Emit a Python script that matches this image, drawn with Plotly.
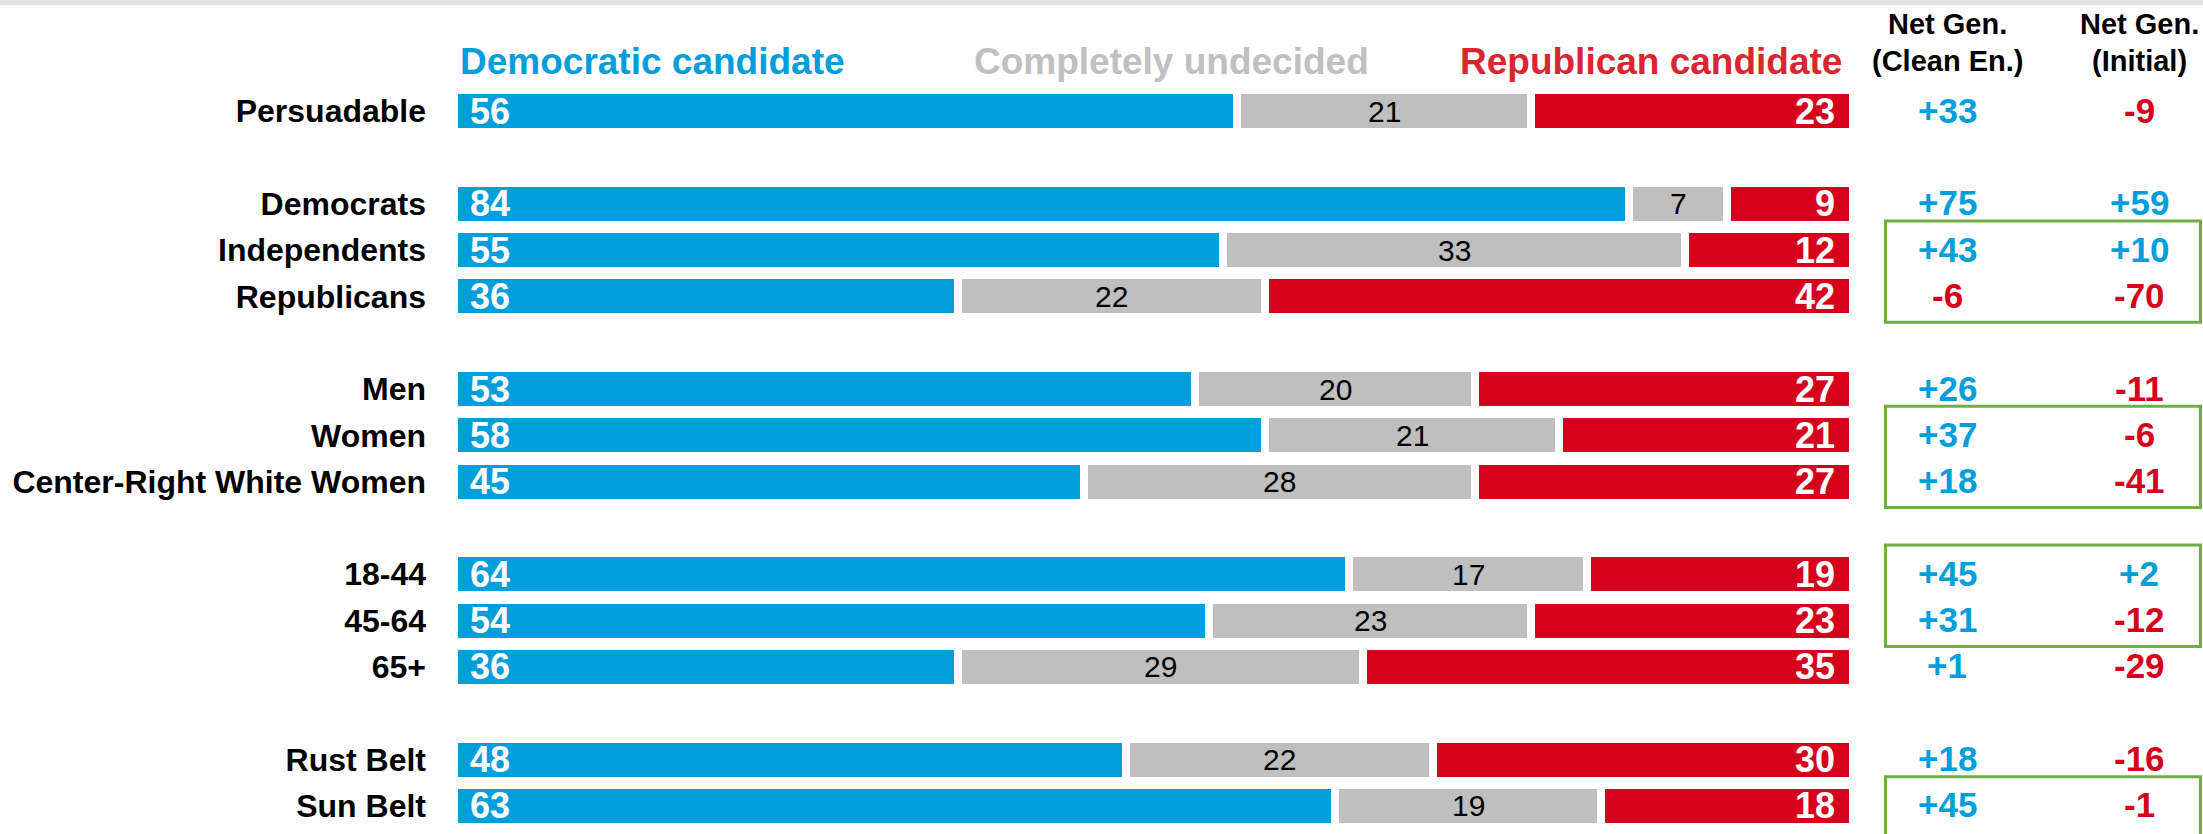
import plotly.graph_objects as go

# ---------------- data ----------------
categories = ["Persuadable", "Democrats", "Independents", "Republicans",
              "Men", "Women", "Center-Right White Women",
              "18-44", "45-64", "65+", "Rust Belt", "Sun Belt"]
groups = [0, 1, 1, 1, 2, 2, 2, 3, 3, 3, 4, 4]
dem = [56, 84, 55, 36, 53, 58, 45, 64, 54, 36, 48, 63]
undecided = [21, 7, 33, 22, 20, 21, 28, 17, 23, 29, 22, 19]
rep = [23, 9, 12, 42, 27, 21, 27, 19, 23, 35, 30, 18]
net_clean = [33, 75, 43, -6, 26, 37, 18, 45, 31, 1, 18, 45]
net_initial = [-9, 59, 10, -70, -11, -6, -41, 2, -12, -29, -16, -1]
series_names = ["Democratic candidate", "Completely undecided", "Republican candidate"]
net_headers = ["Net Gen.<br>(Clean En.)", "Net Gen.<br>(Initial)"]
highlight = [("Independents", "Republicans"), ("Women", "Center-Right White Women"),
             ("18-44", "45-64"), ("Sun Belt", "Sun Belt")]

# ---------------- style ----------------
FONT = "Liberation Sans, Arial, sans-serif"
BLUE = "#009EDB"
GRAY = "#BFBFBF"
RED = "#D6001C"
RED_HDR = "#D92630"
GRAY_HDR = "#C0C0C0"
GREEN = "#70AD47"
W, H = 2203, 834
ML, MR, MT, MB = 454, 350, 88, 5
PW, PH = W - ML - MR, H - MT - MB

rows = [i + g for i, g in enumerate(groups)]
row_of = dict(zip(categories, rows))
NROWS = max(rows) + 1

def px_x(px):
    return (px - ML) / PW

def px_y(py):
    return (H - MB - py) / PH

def row_paper(r):
    return 1 - (r + 0.5) / NROWS

fig = go.Figure()
for vals, col in zip([dem, undecided, rep], [BLUE, GRAY, RED]):
    fig.add_trace(go.Bar(
        y=rows, x=vals, orientation="h", marker=dict(color=col, line=dict(color="white", width=8)),
        width=0.907, hoverinfo="skip", showlegend=False))

ann = []
for r, d, u, rp in zip(rows, dem, undecided, rep):
    ann.append(dict(x=0, y=r, xref="x", yref="y", text=str(d), showarrow=False, xanchor="left",
                    yanchor="middle", xshift=14,
                    font=dict(family=FONT, size=36, color="white", weight="bold")))
    ann.append(dict(x=d + u / 2, y=r, xref="x", yref="y", text=str(u), showarrow=False,
                    xanchor="center", yanchor="middle",
                    font=dict(family=FONT, size=30, color="black")))
    ann.append(dict(x=d + u + rp, y=r, xref="x", yref="y", text=str(rp), showarrow=False,
                    xanchor="right", yanchor="middle", xshift=-16,
                    font=dict(family=FONT, size=36, color="white", weight="bold")))

col_x = [px_x(1947), px_x(2139)]
for cx, vals in zip(col_x, [net_clean, net_initial]):
    for r, v in zip(rows, vals):
        ann.append(dict(x=cx, y=row_paper(r), xref="paper", yref="paper", text=f"{v:+d}",
                        showarrow=False, xanchor="center", yanchor="middle", yshift=1,
                        font=dict(family=FONT, size=35, color=BLUE if v > 0 else RED, weight="bold")))

for cx, t in zip(col_x, net_headers):
    l1, l2 = t.split("<br>")
    ann.append(dict(x=cx, y=px_y(24), xref="paper", yref="paper", text=l1, showarrow=False,
                    xanchor="center", yanchor="middle",
                    font=dict(family=FONT, size=29, color="black", weight="bold")))
    ann.append(dict(x=cx, y=px_y(61), xref="paper", yref="paper", text=l2, showarrow=False,
                    xanchor="center", yanchor="middle",
                    font=dict(family=FONT, size=29, color="black", weight="bold")))

hdr_y = px_y(62)
ann.append(dict(x=0, y=hdr_y, xref="x", yref="paper", text=series_names[0], showarrow=False,
                xanchor="left", yanchor="middle", xshift=4,
                font=dict(family=FONT, size=37, color=BLUE, weight="bold")))
ann.append(dict(x=50, y=hdr_y, xref="x", yref="paper", text=series_names[1], showarrow=False,
                xanchor="center", yanchor="middle", xshift=18,
                font=dict(family=FONT, size=37, color=GRAY_HDR, weight="bold")))
ann.append(dict(x=100, y=hdr_y, xref="x", yref="paper", text=series_names[2], showarrow=False,
                xanchor="right", yanchor="middle", xshift=-9,
                font=dict(family=FONT, size=37, color=RED_HDR, weight="bold")))

shapes = [dict(type="rect", xref="paper", yref="paper", x0=px_x(0), x1=px_x(W), y0=px_y(5), y1=px_y(-2),
               fillcolor="#E3E3E3", line=dict(width=0), layer="below")]
bx0, bx1 = px_x(1885.5), px_x(2200.5)
for i, (a, b) in enumerate(highlight):
    top = row_of[a] - 0.63
    bot = row_of[b] + (0.56 if i < len(highlight) - 1 else 1.8)
    shapes.append(dict(type="rect", xref="paper", yref="paper", x0=bx0, x1=bx1,
                       y0=1 - (bot + 0.5) / NROWS, y1=1 - (top + 0.5) / NROWS,
                       line=dict(color=GREEN, width=3), fillcolor="rgba(0,0,0,0)"))

fig.update_layout(
    width=W, height=H, barmode="stack", bargap=0,
    margin=dict(l=ML, r=MR, t=MT, b=MB, pad=0),
    paper_bgcolor="white", plot_bgcolor="white",
    xaxis=dict(range=[0, 100], visible=False, fixedrange=True),
    yaxis=dict(range=[NROWS - 0.5, -0.5], tickvals=rows, ticktext=categories, ticks="",
               showgrid=False, zeroline=False, showline=False, ticklabelstandoff=27,
               tickfont=dict(family=FONT, size=32, color="black", weight="bold"), fixedrange=True),
    annotations=ann, shapes=shapes, showlegend=False,
)
fig.write_html("out.html", config={"displayModeBar": False},
               post_script="document.body.style.margin='0';document.body.style.overflow='hidden';")
